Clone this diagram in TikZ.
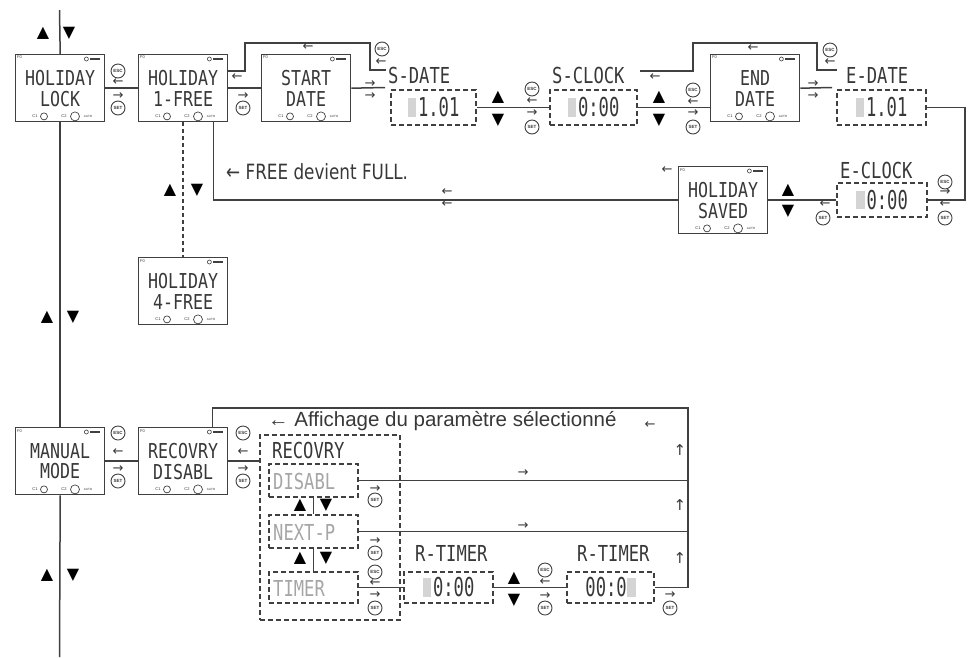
\documentclass[tikz,border=0pt]{standalone}
\usepackage{fontspec}
\setmainfont{Liberation Sans}
\usetikzlibrary{calc}
\newfontfamily\lcdf[FakeStretch=0.81]{DejaVu Sans Mono}
\newfontfamily\lblf[FakeStretch=0.78]{DejaVu Sans Mono}
\newfontfamily\digf[FakeStretch=0.66]{DejaVu Sans Mono}
\newfontfamily\symf{DejaVu Sans}
\newfontfamily\narrowf[FakeStretch=0.8]{DejaVu Sans}
\definecolor{lcdline}{HTML}{404040}
\definecolor{txt}{HTML}{383838}
\definecolor{ghost}{HTML}{D4D4D4}
\definecolor{greytxt}{HTML}{A6A6A6}
\newcommand\ghostdig{{\color{ghost}\rule{0.34em}{0.72em}}\hspace{0.06em}}
\tikzset{
  lcdbox/.style={draw=lcdline, line width=1.4pt, minimum width=89pt, minimum height=67pt, inner sep=0pt, fill=white},
  lcdtxt/.style={font=\lcdf\fontsize{20.5}{20.5}\selectfont, text=txt, inner sep=0pt, align=center},
  lbl/.style={font=\lblf\fontsize{22}{22}\selectfont, text=txt, inner sep=0pt, anchor=west},
  greylbl/.style={font=\lblf\fontsize{22}{22}\selectfont, text=greytxt, inner sep=0pt, anchor=west},
  tinytxt/.style={font=\fontsize{4}{4}\selectfont, inner sep=0pt, text=txt},
  dbox/.style={draw=lcdline, line width=1.6pt, dash pattern=on 5pt off 3pt, inner sep=0pt, font=\digf\fontsize{26}{26}\selectfont, text=txt},
  conn/.style={draw=lcdline, line width=1.5pt},
  dconn/.style={draw=lcdline, line width=1.5pt, dash pattern=on 4pt off 3pt},
  key/.style={circle, draw=lcdline, line width=0.9pt, minimum size=14pt, inner sep=0pt, font=\fontsize{4.5}{4.5}\selectfont\bfseries, text=txt},
  sarr/.style={font=\symf\fontsize{13}{13}\selectfont, inner sep=0pt, text=txt},
  darr/.style={font=\symf\fontsize{13}{12}\selectfont, inner sep=0pt, text=txt, align=center},
  uarr/.style={font=\symf\fontsize{15}{15}\selectfont, inner sep=0pt, text=txt},
  tri/.style={font=\symf\fontsize{16}{16}\selectfont, inner sep=0pt, text=black},
}
\newcommand\lcdscr[5]{%
  \node[lcdbox, anchor=north west] (#1) at (#2,#3) {};
  \node[lcdtxt] (#1-t) at ($(#1.north)+(0,34.3)$) {#4\\#5};
  \node[tinytxt, anchor=north west] (#1-f) at ($(#1.north west)+(2,2)$) {F0};
  \draw[lcdline, line width=0.6pt] ($(#1.north east)+(-19,5)$) circle[radius=2pt];
  \draw[lcdline, line width=1.8pt] ($(#1.north east)+(-15,5)$) -- ++(10,0);
  \node[tinytxt] (#1-c1) at ($(#1.south west)+(20,-6)$) {C1};
  \draw[lcdline, line width=0.7pt] ($(#1.south west)+(29,-6)$) circle[radius=3.5pt];
  \node[tinytxt] (#1-c2) at ($(#1.south west)+(49,-6)$) {C2};
  \draw[lcdline, line width=0.7pt] ($(#1.south west)+(60,-6)$) circle[radius=4.5pt];
  \node[tinytxt, font=\fontsize{3}{3}\selectfont] (#1-au) at ($(#1.south west)+(73,-6)$) {AUTO};
}
\begin{document}
\begin{tikzpicture}[x=1pt,y=-1pt]
\useasboundingbox[fill=white] (0,0) rectangle (979,657);

% ---------- coordinates (free ends / corners)
\coordinate (topend) at (59.5,10);
\coordinate (botend) at (59.5,657);
\coordinate (l1a) at (245,43);
\coordinate (l1b) at (370,43);
\coordinate (l1end) at (386,70);
\coordinate (s1end) at (385,87.5);
\coordinate (l2start) at (640,71);
\coordinate (l2a) at (693,43);
\coordinate (l2b) at (817,43);
\coordinate (l2end) at (837,70);
\coordinate (e1end) at (832,87.5);
\coordinate (ecorner) at (965,107.5);
\coordinate (fbc) at (688,408);

% ---------- LCD screens
\lcdscr{lock}{15}{54}{HOLIDAY}{LOCK}
\lcdscr{free1}{138}{54}{HOLIDAY}{1-FREE}
\lcdscr{start}{261}{54}{START}{DATE}
\lcdscr{enddate}{710}{54}{END}{DATE}
\lcdscr{saved}{678}{166}{HOLIDAY}{SAVED}
\lcdscr{free4}{138}{257}{HOLIDAY}{4-FREE}
\lcdscr{manual}{15}{427}{MANUAL}{MODE}
\lcdscr{recov}{138}{427}{RECOVRY}{DISABL}

% dashed value boxes
\node[dbox, minimum width=85pt, minimum height=35pt] (sdate) at (433.5,107.5) {\ghostdig 1.01};
\node[dbox, minimum width=87pt, minimum height=35pt] (sclock) at (593.5,107.5) {\ghostdig 0:00};
\node[dbox, minimum width=89pt, minimum height=35pt] (edate) at (881.5,107.5) {\ghostdig 1.01};
\node[dbox, minimum width=90pt, minimum height=34pt] (eclock) at (882,200) {\ghostdig 0:00};

\node[dbox, minimum width=140pt, minimum height=185pt] (big) at (330,527.5) {};
\node[dbox, minimum width=89pt, minimum height=33pt] (disabl) at (313.5,480.5) {};
\node[dbox, minimum width=89pt, minimum height=33pt] (nextp) at (313.5,531.5) {};
\node[dbox, minimum width=89pt, minimum height=31pt] (timer) at (313.5,587.5) {};
\node[dbox, minimum width=89pt, minimum height=31pt] (rt1) at (448.5,587.5) {\ghostdig 0:00};
\node[dbox, minimum width=87pt, minimum height=31pt] (rt2) at (610.5,587.5) {00:0\ghostdig};

\node[greylbl] (disabl-t) at (273,481) {DISABL};
\node[greylbl] (nextp-t) at (273,532) {NEXT-P};
\node[greylbl] (timer-t) at (273,588) {TIMER};
\node[lbl] (recov-lbl) at (272,450) {RECOVRY};

% labels
\node[lbl] (sdate-l) at (388,75) {S-DATE};
\node[lbl] (sclock-l) at (552,75) {S-CLOCK};
\node[lbl] (edate-l) at (846,75) {E-DATE};
\node[lbl] (eclock-l) at (840,170) {E-CLOCK};
\node[lbl] (rt1-l) at (415,553) {R-TIMER};
\node[lbl] (rt2-l) at (577,553) {R-TIMER};

% ---------- connectors
\draw[conn] (topend) -- (lock.north);
\draw[conn] (lock.south) -- (manual.north);
\draw[conn] (manual.south) -- (botend);
\draw[conn] (lock.east) -- (free1.west);
\draw[conn] (free1.east) -- (start.west);
\draw[conn] ($(free1.north east)+(0,17)$) -| (l1a) -- (l1b) |- (l1end);
\draw[conn] (start.east) -- (s1end);
\draw[conn] (sdate.east) -- (sclock.west);
\draw[conn] (sclock.east) -- (sclock.east -| enddate.west);
\draw[conn] (l2start) -| (l2a) -- (l2b) |- (l2end);
\draw[conn] (enddate.east) -- (e1end);
\draw[conn] (edate.east) -- (ecorner) |- (eclock.east);
\draw[conn] (eclock.west) -- (eclock.west -| saved.east);
\draw[conn] (saved.west) -| ($(free1.south east)+(-15,0)$);
\draw[dconn] (free1.south) -- (free4.north);

\draw[conn] (manual.east) -- (recov.west);
\draw[conn] (recov.east) -- (recov.east -| big.west);
\draw[conn] ($(recov.north east)+(-16,0)$) |- (fbc) |- (rt2.east);
\draw[conn] (disabl.east) -- (disabl.east -| fbc);
\draw[conn] (nextp.east) -- (nextp.east -| fbc);
\draw[conn] (disabl.south) -- (nextp.north);
\draw[conn] (nextp.south) -- (timer.north);
\draw[conn] (timer.east) -- (rt1.west);
\draw[conn] (rt1.east) -- (rt2.west);

% ---------- texts
\node[font=\narrowf\fontsize{21}{21}\selectfont, text=txt, anchor=west, inner sep=0pt] (freetxt) at (226,172) {← FREE devient FULL.};
\node[font=\fontsize{20.5}{20.5}\selectfont, text=txt, anchor=west, inner sep=0pt] (afftxt) at (268,421) {← Affichage du paramètre sélectionné};

% ---------- triangles
\node[tri] (tr1) at (43,33) {▲};  \node[tri] (tr2) at (69,33) {▼};
\node[tri] (tr3) at (498,97) {▲}; \node[tri] (tr4) at (498,120) {▼};
\node[tri] (tr5) at (659,97) {▲}; \node[tri] (tr6) at (659,120) {▼};
\node[tri] (tr7) at (788,190) {▲}; \node[tri] (tr8) at (788,211) {▼};
\node[tri] (tr9) at (170,190) {▲}; \node[tri] (tr10) at (197,190) {▼};
\node[tri] (tr11) at (47,317) {▲}; \node[tri] (tr12) at (73,317) {▼};
\node[tri] (tr13) at (47,575) {▲}; \node[tri] (tr14) at (73,575) {▼};
\node[tri] (tr15) at (300,505) {▲}; \node[tri] (tr16) at (326,505) {▼};
\node[tri] (tr17) at (300,558) {▲}; \node[tri] (tr18) at (326,558) {▼};
\node[tri] (tr19) at (514,578) {▲}; \node[tri] (tr20) at (514,600) {▼};

% ---------- keys and small arrows
\node[key] (k1) at (118,71) {ESC}; \node[sarr] (a1) at (118,82) {←};
\node[sarr] (a2) at (118,96) {→}; \node[key] (k2) at (118,108) {SET};
\node[sarr] (a3) at (237,77) {←};
\node[sarr] (a4) at (243,96) {→}; \node[key] (k3) at (243,108) {SET};
\node[sarr] (a5) at (308,47) {←};
\node[key] (k4) at (382,49) {ESC}; \node[sarr] (a6) at (381,62) {←};
\node[darr] (a7) at (370,90) {→\\→};
\node[key] (k5) at (532,89) {ESC}; \node[sarr] (a9) at (532,101) {←};
\node[sarr] (a10) at (532,113) {→}; \node[key] (k6) at (532,127) {SET};
\node[sarr] (a11) at (655,77) {←};
\node[key] (k7) at (693,90) {ESC}; \node[sarr] (a12) at (693,102) {←};
\node[sarr] (a13) at (693,113) {→}; \node[key] (k8) at (693,127) {SET};
\node[sarr] (a14) at (753,48) {←};
\node[key] (k9) at (830,50) {ESC}; \node[sarr] (a15) at (830,62) {←};
\node[darr] (a16) at (813,90) {→\\→};
\node[key] (k10) at (945,182) {ESC}; \node[darr] (a18) at (945,198.5) {→\\←};
\node[key] (k11) at (945,218) {SET};
\node[sarr] (a20) at (825,204) {←}; \node[key] (k12) at (823,218) {SET};
\node[sarr] (a21) at (667,170) {←};
\node[darr] (a22) at (447,198.5) {←\\←};

\node[key] (k13) at (118,433) {ESC}; \node[sarr] (a24) at (118,452) {←};
\node[sarr] (a25) at (118,469) {→}; \node[key] (k14) at (118,481) {SET};
\node[key] (k15) at (243,433) {ESC}; \node[sarr] (a26) at (243,452) {←};
\node[sarr] (a27) at (243,469) {→}; \node[key] (k16) at (243,481) {SET};
\node[sarr] (a28) at (650,425) {←};
\node[uarr] (a29) at (680,450) {↑}; \node[uarr] (a30) at (680,505) {↑}; \node[uarr] (a31) at (680,558) {↑};
\node[sarr] (a32) at (523,473) {→}; \node[sarr] (a33) at (523,526) {→};
\node[sarr] (a34) at (375,489) {→}; \node[key] (k17) at (375,500) {SET};
\node[sarr] (a35) at (375,541) {→}; \node[key] (k18) at (375,553) {SET};
\node[key] (k19) at (375,572) {ESC}; \node[sarr] (a36) at (375,583) {←};
\node[sarr] (a37) at (375,595) {→}; \node[key] (k20) at (375,608) {SET};
\node[key] (k21) at (545,570) {ESC}; \node[sarr] (a38) at (545,582) {←};
\node[sarr] (a39) at (545,596) {→}; \node[key] (k22) at (545,608) {SET};
\node[sarr] (a40) at (670,595) {→}; \node[key] (k23) at (670,608) {SET};
\end{tikzpicture}
\end{document}
